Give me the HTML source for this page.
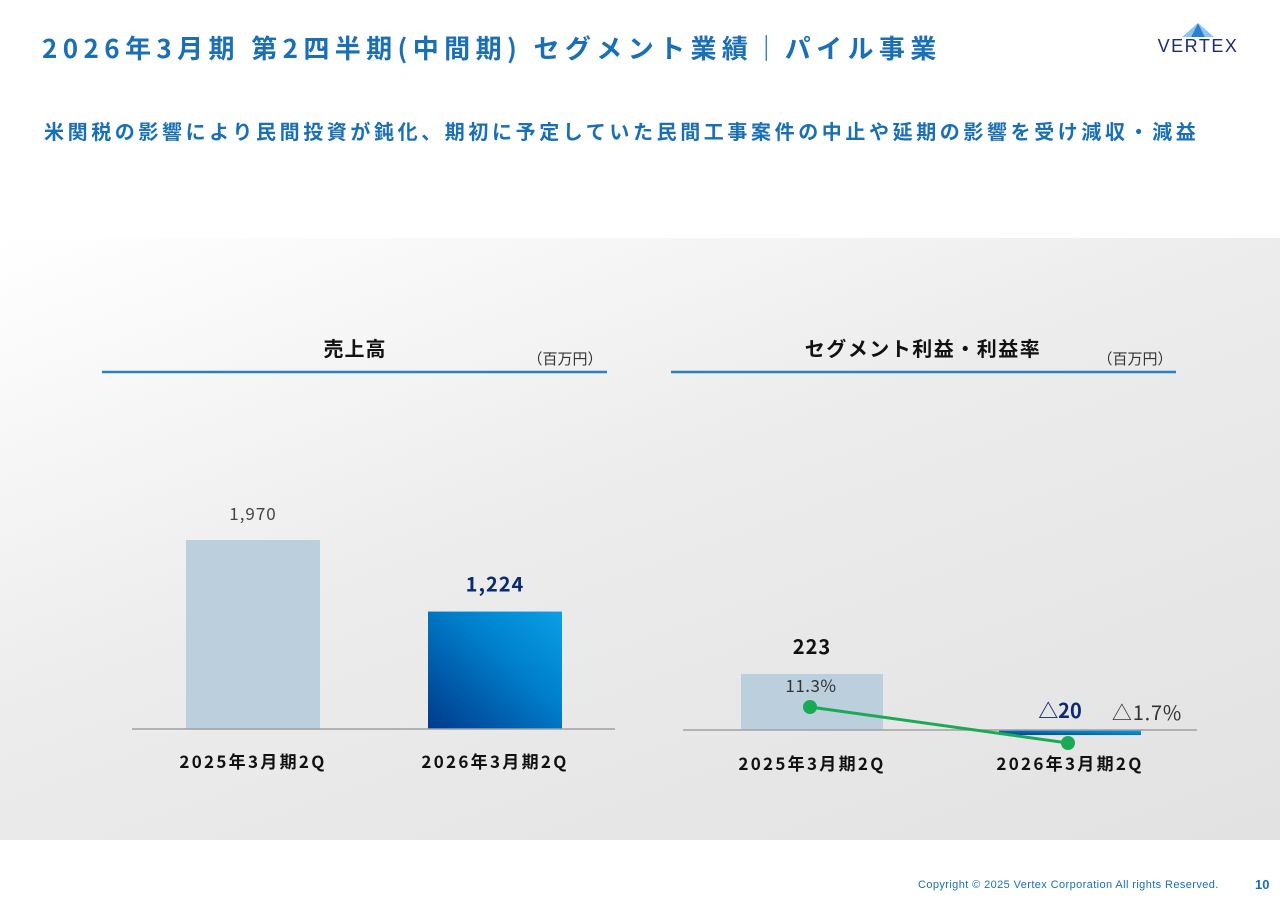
<!DOCTYPE html>
<html><head><meta charset="utf-8">
<style>
body{margin:0;width:1280px;height:905px;position:relative;background:#fff;font-family:"Noto Sans CJK JP","Liberation Sans",sans-serif;overflow:hidden}
.abs{position:absolute}
svg text{font-family:"Noto Sans CJK JP","Liberation Sans",sans-serif}
</style></head><body>
<div class="abs" style="left:42px;top:28px;font-size:26px;font-weight:bold;color:#1a6fb5;white-space:nowrap;letter-spacing:5.4px;line-height:40px">2026年3月期 第2四半期(中間期) セグメント業績｜パイル事業</div>
<div class="abs" style="left:1146px;top:22px;width:104px;height:34px">
<svg width="104" height="34"><polygon points="52,1 45,15 59,15" fill="#2a7fd0"/><polygon points="52,1 36,15 45,15" fill="#8fc4ef"/><polygon points="52,1 68,15 59,15" fill="#8fc4ef"/>
<text x="52" y="30" text-anchor="middle" font-size="18" style="font-family:'Liberation Sans'" fill="#1f2a7a" letter-spacing="1.5">VERTEX</text></svg></div>
<div class="abs" style="left:44px;top:116px;font-size:20px;font-weight:bold;color:#1a6fb5;white-space:nowrap;letter-spacing:3.6px;line-height:30px">米関税の影響により民間投資が鈍化、期初に予定していた民間工事案件の中止や延期の影響を受け減収・減益</div>
<div class="abs" style="left:0;top:238px;width:1280px;height:602px;background:linear-gradient(160deg,#ffffff 0%,#ececec 45%,#e2e2e2 100%)"></div>
<svg class="abs" style="left:0;top:0" width="1280" height="905" id="chart">
<defs><linearGradient id="bg2" x1="0" y1="1" x2="1" y2="0"><stop offset="0" stop-color="#003a8c"/><stop offset="0.6" stop-color="#0080cc"/><stop offset="1" stop-color="#0aa0e6"/></linearGradient></defs>
<text x="355" y="356" text-anchor="middle" font-size="20" font-weight="bold" fill="#111" letter-spacing="1">売上高</text>
<text x="565" y="364" text-anchor="middle" font-size="15" fill="#333">（百万円）</text>
<line x1="102" y1="372" x2="607" y2="372" stroke="#2a80c0" stroke-width="2.5"/>
<text x="923" y="356" text-anchor="middle" font-size="20" font-weight="bold" fill="#111" letter-spacing="1.5">セグメント利益・利益率</text>
<text x="1135" y="364" text-anchor="middle" font-size="15" fill="#333">（百万円）</text>
<line x1="671" y1="372" x2="1176" y2="372" stroke="#2a80c0" stroke-width="2.5"/>
<g id="g"></g>
</svg>
<div class="abs" style="left:918px;top:879px;font-size:11px;color:#1a6fb5;font-family:'Liberation Sans';letter-spacing:0.4px">Copyright © 2025 Vertex Corporation All rights Reserved.</div>
<div class="abs" style="left:1255px;top:877px;font-size:13px;font-weight:bold;color:#1a6fb5;font-family:'Liberation Sans'">10</div>
<script>
const categories=["2025年3月期2Q","2026年3月期2Q"];
const salesValues=[1970,1224];
const salesLabels=["1,970","1,224"];
const profitValues=[223,-20];
const profitLabels=["223","△20"];
const marginValues=[11.3,-1.7];
const marginLabels=["11.3%","△1.7%"];
const NS="http://www.w3.org/2000/svg";
const g=document.getElementById('g');
function mk(t,a,txt){const e=document.createElementNS(NS,t);for(const k in a)e.setAttribute(k,a[k]);if(txt!==undefined)e.textContent=txt;g.appendChild(e);return e;}
const sBase=729,sK=189/1970,sX=[253,495],bw=134;
const sy=v=>sBase-v*sK;
salesValues.forEach((v,i)=>{
 const r=mk('rect',{x:sX[i]-bw/2,y:Math.min(sy(v),sBase),width:bw,height:Math.abs(v*sK),fill:i?'url(#bg2)':'#bccfdd'});
 
 
 const t=mk('text',{x:sX[i],y:sy(v)-20,'text-anchor':'middle','font-size':i?20:17,'font-weight':i?'bold':'normal',fill:i?'#0d2a6e':'#444','letter-spacing':1},salesLabels[i]);
 
 
 const c=mk('text',{x:sX[i],y:768,'text-anchor':'middle','font-size':17,'font-weight':'bold',fill:'#111','letter-spacing':2.3},categories[i]);
 
 
});
const sa=mk('line',{x1:132,y1:sBase,x2:615,y2:sBase,stroke:'#a0a0a0','stroke-width':1.5});


const pBase=730,pK=56/223,pX=[812,1070],pw=142;
const py=v=>pBase-v*pK;
const my=v=>738.3-v*2.77;
profitValues.forEach((v,i)=>{
 const r=mk('rect',{x:pX[i]-pw/2,y:Math.min(py(v),pBase),width:pw,height:Math.max(Math.abs(v*pK),2),fill:i?'url(#bg2)':'#bccfdd'});
 
 
 const c=mk('text',{x:pX[i],y:770,'text-anchor':'middle','font-size':17,'font-weight':'bold',fill:'#111','letter-spacing':2.3},categories[i]);
 
 
});
const pa=mk('line',{x1:683,y1:pBase,x2:1197,y2:pBase,stroke:'#a0a0a0','stroke-width':1.5});


const t1=mk('text',{x:pX[0],y:py(profitValues[0])-20,'text-anchor':'middle','font-size':20,'font-weight':'bold',fill:'#111','letter-spacing':1},profitLabels[0]);


const t2=mk('text',{x:1060,y:718,'text-anchor':'middle','font-size':20,'font-weight':'bold',fill:'#0d2a6e'},profitLabels[1]);


const ln=mk('polyline',{points:marginValues.map((v,i)=>(pX[i]-2)+','+my(v)).join(' '),fill:'none',stroke:'#1aaa55','stroke-width':3});


marginValues.forEach((v,i)=>{
 const d=mk('circle',{cx:pX[i]-2,cy:my(v),r:7,fill:'#1aaa55'});
 
 
});
const m1=mk('text',{x:pX[0]-1,y:692,'text-anchor':'middle','font-size':17,fill:'#333','letter-spacing':0.5},marginLabels[0]);


const m2=mk('text',{x:1147,y:720,'text-anchor':'middle','font-size':20,fill:'#333','letter-spacing':0.8},marginLabels[1]);


</script>
</body></html>
